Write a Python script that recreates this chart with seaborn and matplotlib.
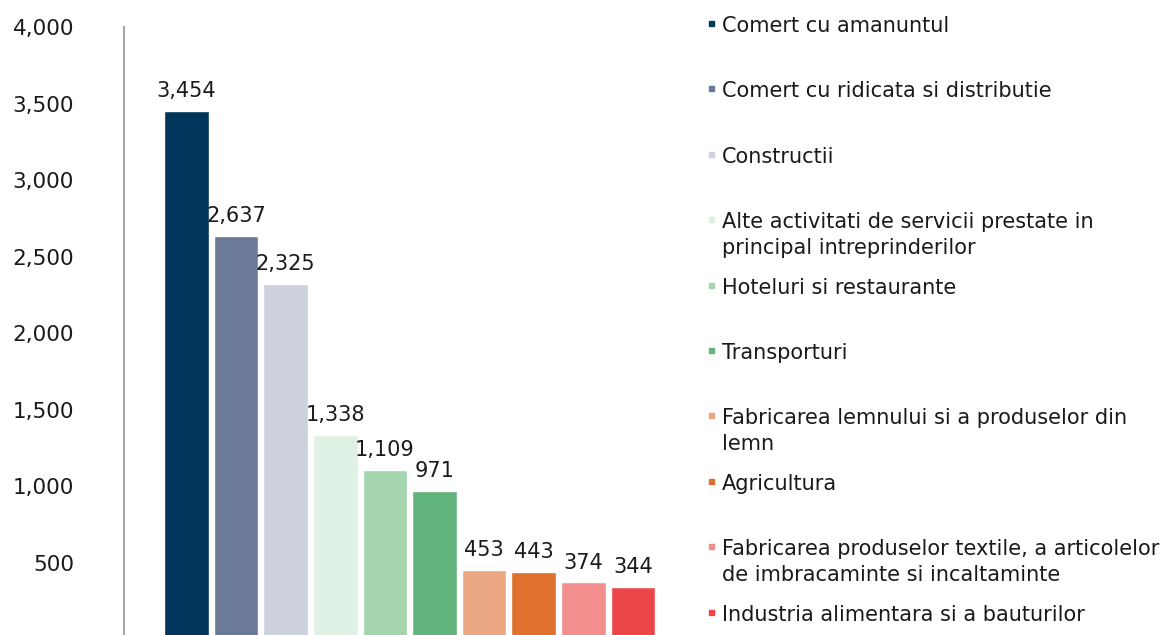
import matplotlib
matplotlib.use("Agg")
import matplotlib.pyplot as plt
import seaborn as sns
import pandas as pd
from matplotlib.lines import Line2D

categories = [
    "Comert cu amanuntul",
    "Comert cu ridicata si distributie",
    "Constructii",
    "Alte activitati de servicii prestate in\nprincipal intreprinderilor",
    "Hoteluri si restaurante",
    "Transporturi",
    "Fabricarea lemnului si a produselor din\nlemn",
    "Agricultura",
    "Fabricarea produselor textile, a articolelor\nde imbracaminte si incaltaminte",
    "Industria alimentara si a bauturilor",
]
values = [3454, 2637, 2325, 1338, 1109, 971, 453, 443, 374, 344]
colors = ["#02355B", "#6B7A99", "#CDD1DE", "#DFF1E4", "#A3D4AE",
          "#62B47D", "#EBA883", "#E0702E", "#F28E8E", "#EC4648"]
yticks = [500, 1000, 1500, 2000, 2500, 3000, 3500, 4000]

sns.set_theme(style="white")
plt.rcParams["font.family"] = ["DejaVu Sans"]
FS_TICK = 15.5
FS_BAR = 15
FS_LEG = 15

W, H = 1168, 635
fig = plt.figure(figsize=(W / 100, H / 100), dpi=100)
ax = fig.add_axes([124 / W, 0, (695 - 124) / W, 1 - 27 / H])

df = pd.DataFrame({"cat": categories, "val": values})
sns.barplot(data=df, x="cat", y="val", hue="cat", palette=colors,
            legend=False, width=0.9, saturation=1, ax=ax, dodge=False)

for cont, v in zip(ax.containers, values):
    ax.bar_label(cont, labels=[f"{v:,}"], padding=7, fontsize=FS_BAR, color="#1a1a1a")

ax.set_xlim(-1.26, 10.25)
ax.set_ylim(30, 4000)
ax.set_yticks(yticks)
ax.set_yticklabels([f"{t:,}" for t in yticks], fontsize=FS_TICK, color="#1a1a1a")
ax.tick_params(axis="y", length=0, pad=36)
ax.set_xticks([])
ax.set_xlabel("")
ax.set_ylabel("")
for s in ["top", "right", "bottom"]:
    ax.spines[s].set_visible(False)
ax.spines["left"].set_color("#A6A6A6")
ax.spines["left"].set_linewidth(1.5)
ax.grid(False)

# legend drawn manually
baseline0 = 32
spacing = 65.4
line_h = 25.7
for i, (lab, c) in enumerate(zip(categories, colors)):
    yb = baseline0 + i * spacing
    for k, line in enumerate(lab.split("\n")):
        fig.text(722 / W, 1 - (yb + k * line_h) / H, line, fontsize=FS_LEG,
                 color="#1a1a1a", va="baseline", ha="left")
    fig.add_artist(Line2D([711 / W], [1 - (yb - 9) / H], marker="s",
                          markersize=3.6, color=c, linestyle="none",
                          transform=fig.transFigure))

fig.savefig("out.png", dpi=100)
